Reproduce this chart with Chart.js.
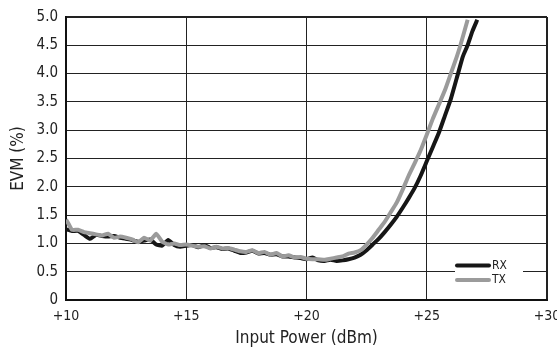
<!DOCTYPE html>
<html>
<head>
<meta charset="utf-8">
<script src="https://cdn.jsdelivr.net/npm/chart.js@4"></script>
<style>
  html, body { margin: 0; padding: 0; background: #fff; }
  canvas { display: block; }
</style>
</head>
<body>
<canvas id="evm" width="557" height="349"></canvas>
<script>
// input power (dBm) and EVM (%)
const rxPower = [10.0, 10.25, 10.5, 10.75, 11.0, 11.25, 11.5, 11.75, 12.0, 12.25, 12.5, 12.75, 13.0, 13.25, 13.5, 13.75, 14.0, 14.25, 14.5, 14.75,
    15.0, 15.25, 15.5, 15.75, 16.0, 16.25, 16.5, 16.75, 17.0, 17.25, 17.5, 17.75, 18.0, 18.25, 18.5, 18.75, 19.0, 19.25, 19.5, 19.75,
    20.0, 20.25, 20.5, 20.75, 21.0, 21.25, 21.5, 21.75, 22.0, 22.25, 22.5, 22.75, 23.0, 23.25, 23.5, 23.75, 24.0, 24.25, 24.5, 24.75,
    25.0, 25.25, 25.5, 25.75, 26.0, 26.3, 26.5, 26.7, 26.9, 27.1];
const rxEvm = [1.25, 1.22, 1.22, 1.15, 1.08, 1.15, 1.13, 1.12, 1.13, 1.10, 1.08, 1.06, 1.03, 1.05, 1.07, 0.98, 0.96, 1.06, 0.97, 0.94,
    0.96, 0.97, 0.93, 0.97, 0.92, 0.93, 0.90, 0.91, 0.87, 0.83, 0.84, 0.87, 0.82, 0.83, 0.80, 0.81, 0.77, 0.77, 0.75, 0.74,
    0.72, 0.75, 0.70, 0.69, 0.71, 0.69, 0.70, 0.72, 0.75, 0.80, 0.88, 0.98, 1.08, 1.20, 1.33, 1.47, 1.63, 1.80, 1.98, 2.20,
    2.45, 2.70, 2.95, 3.25, 3.55, 4.00, 4.30, 4.50, 4.75, 4.95];

const txPower = [10.0, 10.1, 10.25, 10.5, 10.75, 11.0, 11.25, 11.5, 11.75, 12.0, 12.25, 12.5, 12.75, 13.0, 13.25, 13.5, 13.75, 14.0, 14.25, 14.5, 14.75,
    15.0, 15.25, 15.5, 15.75, 16.0, 16.25, 16.5, 16.75, 17.0, 17.25, 17.5, 17.75, 18.0, 18.25, 18.5, 18.75, 19.0, 19.25, 19.5, 19.75,
    20.0, 20.25, 20.5, 20.75, 21.0, 21.25, 21.5, 21.75, 22.0, 22.25, 22.5, 22.75, 23.0, 23.25, 23.5, 23.75, 24.0, 24.25, 24.5, 24.75,
    25.0, 25.25, 25.5, 25.75, 26.0, 26.25, 26.4, 26.7];
const txEvm = [1.42, 1.35, 1.24, 1.24, 1.20, 1.18, 1.16, 1.14, 1.17, 1.10, 1.12, 1.10, 1.07, 1.02, 1.10, 1.05, 1.17, 1.03, 0.98, 1.00, 0.97,
    0.98, 0.96, 0.94, 0.95, 0.91, 0.94, 0.91, 0.92, 0.89, 0.86, 0.85, 0.88, 0.83, 0.85, 0.80, 0.83, 0.77, 0.79, 0.75, 0.76,
    0.73, 0.72, 0.72, 0.71, 0.73, 0.75, 0.77, 0.82, 0.84, 0.88, 0.98, 1.10, 1.24, 1.38, 1.55, 1.72, 1.95, 2.20, 2.42, 2.65,
    2.92, 3.20, 3.45, 3.70, 4.00, 4.30, 4.50, 4.95];

const seriesNames = ['RX', 'TX'];
const seriesColors = ['#161616', '#9b9b9b'];

const FONT = "'Liberation Sans Narrow', 'DejaVu Sans Condensed', 'Arial Narrow', sans-serif";

const toPoints = (xs, ys) => xs.map((x, i) => ({ x: x, y: ys[i] }));

// little legend sitting in the lower right corner of the plot
const cornerLegend = {
    id: 'cornerLegend',
    afterDraw(chart) {
        const ctx = chart.ctx;
        const x0 = 457, x1 = 489;
        const rows = [265.5, 280];
        ctx.save();
        ctx.fillStyle = '#fff';
        ctx.fillRect(455, 257, 68, 30);
        rows.forEach((y, i) => {
            ctx.strokeStyle = seriesColors[i];
            ctx.lineWidth = 4;
            ctx.lineCap = 'round';
            ctx.beginPath();
            ctx.moveTo(x0, y);
            ctx.lineTo(x1, y);
            ctx.stroke();
            ctx.fillStyle = '#222';
            ctx.font = '12px ' + FONT;
            ctx.textBaseline = 'middle';
            ctx.fillText(seriesNames[i], 492, y);
        });
        ctx.restore();
    }
};

new Chart(document.getElementById('evm'), {
    type: 'line',
    data: {
        datasets: [
            {
                label: seriesNames[0],
                data: toPoints(rxPower, rxEvm),
                borderColor: seriesColors[0],
                borderWidth: 4,
                pointRadius: 0,
                tension: 0.15,
                order: 2
            },
            {
                label: seriesNames[1],
                data: toPoints(txPower, txEvm),
                borderColor: seriesColors[1],
                borderWidth: 4,
                pointRadius: 0,
                tension: 0.15,
                order: 1
            }
        ]
    },
    options: {
        responsive: false,
        animation: false,
        layout: { padding: { top: 14, right: 10, left: 0, bottom: 0 } },
        plugins: {
            legend: { display: false },
            tooltip: { enabled: false }
        },
        scales: {
            x: {
                type: 'linear',
                min: 10,
                max: 30,
                afterFit: (scale) => {
                    scale.height = 49;
                    scale.paddingLeft = 0;
                    scale.paddingRight = 0;
                },
                afterBuildTicks: (scale) => { scale.ticks = [10, 15, 20, 25, 30].map(v => ({ value: v })); },
                ticks: {
                    padding: 8,
                    color: '#222',
                    font: { family: FONT, size: 14 },
                    maxRotation: 0,
                    callback: (v) => '+' + v
                },
                grid: {
                    drawTicks: false,
                    color: '#222',
                    lineWidth: (c) => (c.tick && c.tick.value === 30 ? 2 : 1)
                },
                border: { width: 2, color: '#111' },
                title: {
                    display: true,
                    text: 'Input Power (dBm)',
                    color: '#222',
                    font: { family: FONT, size: 17 },
                    padding: { top: 0, bottom: 0 }
                }
            },
            y: {
                min: 0,
                max: 5,
                afterFit: (scale) => { scale.width = 66; },
                ticks: {
                    stepSize: 0.5,
                    padding: 8,
                    color: '#222',
                    font: { family: FONT, size: 15 },
                    callback: (v) => (v === 0 ? '0' : v.toFixed(1))
                },
                grid: {
                    drawTicks: false,
                    color: '#222',
                    lineWidth: (c) => (c.tick && c.tick.value === 5 ? 2 : 1)
                },
                border: { width: 2, color: '#111' },
                title: {
                    display: true,
                    text: 'EVM (%)',
                    color: '#222',
                    font: { family: FONT, size: 17 },
                    padding: { top: 8, bottom: 0 }
                }
            }
        }
    },
    plugins: [cornerLegend]
});
</script>
</body>
</html>
